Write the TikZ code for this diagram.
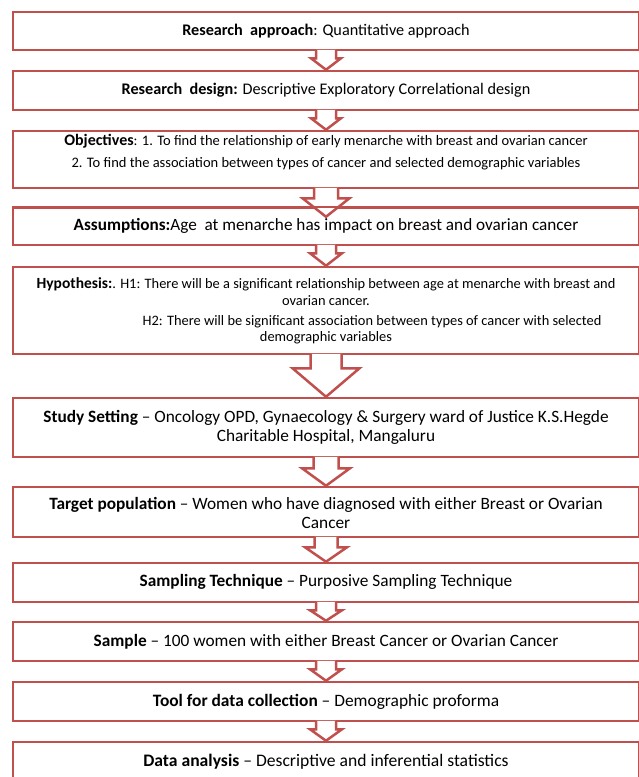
\documentclass[tikz,border=0pt]{standalone}
\usepackage{fontspec}
\setmainfont{Carlito}
\usetikzlibrary{calc}
\definecolor{bred}{HTML}{C0504D}
\newcommand\fs[1]{\fontsize{#1}{#1}\selectfont}
\newcommand\blockarr[6]{% from, to, half shaft, half head, shaft length, tip offset
  \draw[arr] ($(#1.south)+(-#3,-1.4)$) -- ($(#1.south)+(-#3,#5)$) -- ($(#1.south)+(-#4,#5)$)
    -- ($(#2.north)+(0,#6)$) -- ($(#1.south)+(#4,#5)$) -- ($(#1.south)+(#3,#5)$) -- ($(#1.south)+(#3,-1.4)$);
}
\begin{document}
\begin{tikzpicture}[x=1pt,y=-1pt,
  box/.style={draw=bred, line width=2.5pt, fill=white, minimum width=626pt, inner sep=0pt},
  txt/.style={inner sep=0pt, align=center, text=black},
  arr/.style={draw=bred, line width=2.5pt, fill=white, line join=miter}]
\useasboundingbox (0,0) rectangle (638,777);
% boxes
\node[box, minimum height=38pt] (b1) at (326,31) {};
\node[box, minimum height=39pt] (b2) at (326,90.5) {};
\node[box, minimum height=57pt] (b3) at (326,159.5) {};
\node[box, minimum height=37pt] (b4) at (326,226.5) {};
\node[box, minimum height=87pt] (b5) at (326,310.5) {};
\node[box, minimum height=59pt] (b6) at (326,427.5) {};
\node[box, minimum height=50pt] (b7) at (326,512) {};
\node[box, minimum height=39pt] (b8) at (326,582.5) {};
\node[box, minimum height=39pt] (b9) at (326,641.5) {};
\node[box, minimum height=39pt] (b10) at (326,701.5) {};
\node[box, minimum height=60pt] (b11) at (326,772) {};
% arrows
\blockarr{b1}{b2}{10}{15}{7}{0}
\blockarr{b2}{b3}{10}{15}{7}{0}
\blockarr{b3}{b4}{12}{23.5}{9}{10}
\blockarr{b4}{b5}{10}{16}{7}{0}
\blockarr{b5}{b6}{15.5}{33.5}{13}{0}
\blockarr{b6}{b7}{12.5}{24}{10}{0}
\blockarr{b7}{b8}{11.5}{21}{9}{0}
\blockarr{b8}{b9}{10}{16}{7}{0}
\blockarr{b9}{b10}{10}{16}{7}{0}
\blockarr{b10}{b11}{10}{16}{7}{0}
\draw[draw=bred, line width=2.5pt] (b4.north west) -- (b4.north east);
% texts
\node[txt, font=\fs{16.2}] (t1) at (326,31) {\textbf{Research\ \ approach}: Quantitative approach};
\node[txt, font=\fs{16.2}] (t2) at (326,90) {\textbf{Research\ \ design:} Descriptive Exploratory Correlational design};
\node[txt, font=\fontsize{14.5}{22}\selectfont] (t3) at (326,152) {{\fs{16}\textbf{Objectives}}: 1. To find the relationship of early menarche with breast and ovarian cancer\\ 2. To find the association between types of cancer and selected demographic variables};
\node[txt, font=\fs{17.2}] (t4) at (326,226) {\textbf{Assumptions:}Age\ \ at menarche has impact on breast and ovarian cancer};
\node[txt, font=\fontsize{14.4}{17}\selectfont] (t5) at (326,291.5) {{\fs{15.5}\textbf{Hypothesis:}}. H1: There will be a significant relationship between age at menarche with breast and\\ ovarian cancer.};
\node[txt, font=\fontsize{14.4}{16}\selectfont] (t5b) at (326,330) {\hspace*{92pt}H2: There will be significant association between types of cancer with selected\\ demographic variables};
\node[txt, font=\fontsize{17.3}{19}\selectfont] (t6) at (326,427.5) {\textbf{Study Setting} -- Oncology OPD, Gynaecology \& Surgery ward of Justice K.S.Hegde\\ Charitable Hospital, Mangaluru};
\node[txt, font=\fontsize{17.3}{19}\selectfont] (t7) at (326,512.5) {\textbf{Target population} -- Women who have diagnosed with either Breast or Ovarian\\ Cancer};
\node[txt, font=\fs{17.3}] (t8) at (326,582) {\textbf{Sampling Technique} -- Purposive Sampling Technique};
\node[txt, font=\fs{17.3}] (t9) at (326,642) {\textbf{Sample} -- 100 women with either Breast Cancer or Ovarian Cancer};
\node[txt, font=\fs{17.4}] (t10) at (326,702) {\textbf{Tool for data collection} -- Demographic proforma};
\node[txt, font=\fs{17.6}] (t11) at (326,762) {\textbf{Data analysis} -- Descriptive and inferential statistics};
\end{tikzpicture}
\end{document}
